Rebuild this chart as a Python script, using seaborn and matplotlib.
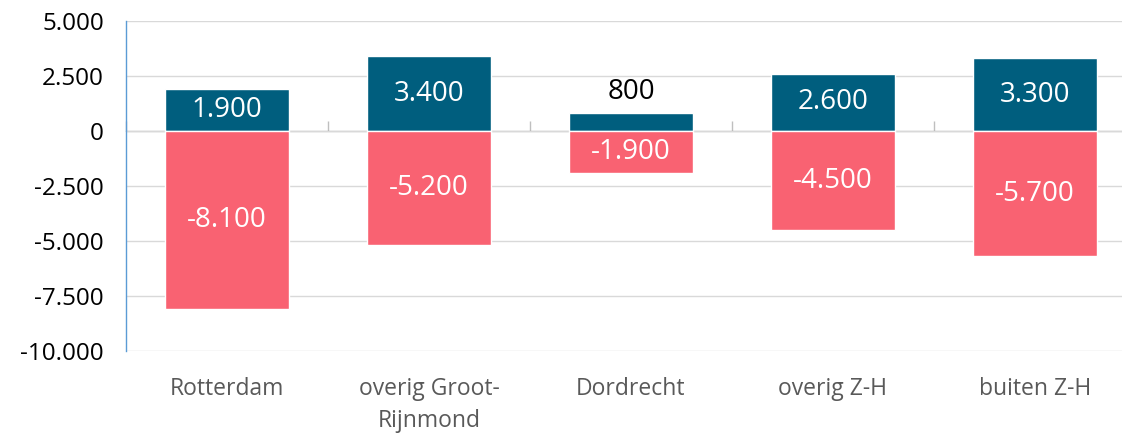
import pandas as pd
import matplotlib.pyplot as plt
import seaborn as sns

# Data
regions = ["Rotterdam", "overig Groot-\nRijnmond", "Dordrecht", "overig Z-H", "buiten Z-H"]
inflow = [1900, 3400, 800, 2600, 3300]
outflow = [-8100, -5200, -1900, -4500, -5700]
y_ticks = [5000, 2500, 0, -2500, -5000, -7500, -10000]

teal = "#005E7E"
coral = "#F96272"

df = pd.DataFrame({
    "regio": regions * 2,
    "waarde": inflow + outflow,
    "soort": ["in"] * len(regions) + ["uit"] * len(regions),
})


def nl(v):
    return f"{v:,.0f}".replace(",", ".")


sns.set_style("white")
plt.rcParams['font.family'] = ['Open Sans', 'DejaVu Sans']

fig = plt.figure(figsize=(11.22, 4.34), dpi=100)
ax = fig.add_axes([126 / 1122, 83 / 434, 1010 / 1122, 330 / 434])

sns.barplot(data=df, x="regio", y="waarde", hue="soort", order=regions,
            palette={"in": teal, "uit": coral}, dodge=False, width=0.61,
            saturation=1, legend=False, ax=ax, zorder=3)

ax.set_ylim(-10000, 5000)
ax.set_xlim(-0.5, 4.5)
ax.set_yticks(y_ticks)
ax.set_yticklabels([nl(t) for t in y_ticks], fontsize=17.5, color="black")
ax.set_xticks(range(len(regions)))
ax.set_xticklabels(regions, fontsize=16.5, color="#595959", linespacing=1.45)
ax.set_xlabel("")
ax.set_ylabel("")
ax.tick_params(axis="x", length=0, pad=19)
ax.tick_params(axis="y", length=7, width=1, color="#5B9BD5", pad=9, direction="out")

for t in y_ticks:
    ax.axhline(t, color="#D9D9D9", lw=1, zorder=1)

for s in ["top", "right", "bottom"]:
    ax.spines[s].set_visible(False)
ax.spines["left"].set_color("#5B9BD5")
ax.spines["left"].set_linewidth(1)

# zero line with category separators
sec = ax.secondary_xaxis(2 / 3)
sec.set_xticks([-0.5, 0.5, 1.5, 2.5, 3.5, 4.5])
sec.set_xticklabels([])
sec.tick_params(length=7, width=1, color="#BFBFBF", direction="out")
sec.spines["bottom"].set_color("#BFBFBF")
sec.spines["bottom"].set_linewidth(1.5)

# value labels
for i, v in enumerate(inflow):
    if v < 1000:
        ax.text(i, v + 350, nl(v), ha="center", va="bottom", fontsize=20, color="black")
    else:
        ax.text(i, v / 2, nl(v), ha="center", va="center", fontsize=20, color="white", zorder=4)
for i, v in enumerate(outflow):
    ax.text(i, v / 2, nl(v), ha="center", va="center", fontsize=20, color="white", zorder=4)

plt.savefig("out.png", dpi=100)
